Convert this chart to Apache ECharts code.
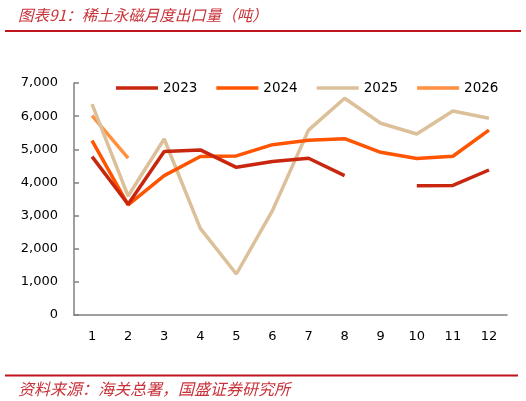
<!DOCTYPE html>
<html>
<head>
<meta charset="utf-8">
<script src="https://cdn.jsdelivr.net/npm/echarts@6/dist/echarts.min.js"></script>
<style>
html,body{margin:0;padding:0;background:#fff;}
#c{width:526px;height:401px;}
</style>
</head>
<body>
<div id="c"></div>
<script>
const months = ['1','2','3','4','5','6','7','8','9','10','11','12'];
const yTicks = [0,1000,2000,3000,4000,5000,6000,7000];
const s2023 = [4780,3340,4930,4980,4455,4630,4730,4205,null,3900,3910,4375];
const s2024 = [5260,3320,4205,4780,4800,5140,5270,5320,4910,4720,4790,5580];
const s2025 = [6360,3590,5310,2615,1237,3150,5580,6540,5785,5460,6155,5935];
const s2026 = [6015,4730];
const names = ['2023','2024','2025','2026'];
const colors = ['#C8260E','#FF5500','#DCC09A','#FF9140'];

const chart = echarts.init(document.getElementById('c'), null, {renderer:'canvas'});
const mk = (i, d) => ({
  name: names[i], type:'line', data:d, symbol:'none', connectNulls:false,
  lineStyle:{color:colors[i], width:3.5}, itemStyle:{color:colors[i]}, z: 10 - i
});
chart.setOption({
  animation:false,
  title:[
    {text:'图表91：稀土永磁月度出口量（吨）', left:13, top:2,
     textStyle:{fontFamily:'Noto Sans CJK SC', fontSize:15.5, fontStyle:'italic', fontWeight:'normal', color:'#C8323A'}},
    {text:'资料来源：海关总署，国盛证券研究所', left:13, top:376,
     textStyle:{fontFamily:'Noto Sans CJK SC', fontSize:16, fontStyle:'italic', fontWeight:'normal', color:'#C8323A'}}
  ],
  graphic:[
    {type:'rect', shape:{x:5, y:30, width:516, height:2}, style:{fill:'#C0141E'}},
    {type:'rect', shape:{x:5, y:374.5, width:513, height:2}, style:{fill:'#C0141E'}}
  ],
  legend:{
    data:names, left:111, top:76, icon:'rect', itemWidth:42, itemHeight:3.5, itemGap:19,
    textStyle:{fontFamily:'DejaVu Sans', fontSize:13.5, color:'#000'}
  },
  grid:{left:74, right:19, top:83, bottom:86, containLabel:false},
  xAxis:{
    type:'category', data:months, boundaryGap:true,
    axisLine:{lineStyle:{color:'#808080', width:1.5}},
    axisTick:{inside:true, length:5, lineStyle:{color:'#808080', width:1.5}},
    axisLabel:{fontFamily:'DejaVu Sans', fontSize:13, color:'#000', margin:15},
    splitLine:{show:false}
  },
  yAxis:{
    type:'value', min:0, max:7000, interval:1000,
    axisLine:{show:true, lineStyle:{color:'#808080', width:1.5}},
    axisTick:{show:true, inside:true, length:5, lineStyle:{color:'#808080', width:1.5}},
    axisLabel:{fontFamily:'DejaVu Sans', fontSize:13, color:'#000', margin:16,
      formatter:v => v.toLocaleString('en-US')},
    splitLine:{show:false}
  },
  series:[mk(0,s2023), mk(1,s2024), mk(2,s2025), mk(3,s2026)]
});
</script>
</body>
</html>
